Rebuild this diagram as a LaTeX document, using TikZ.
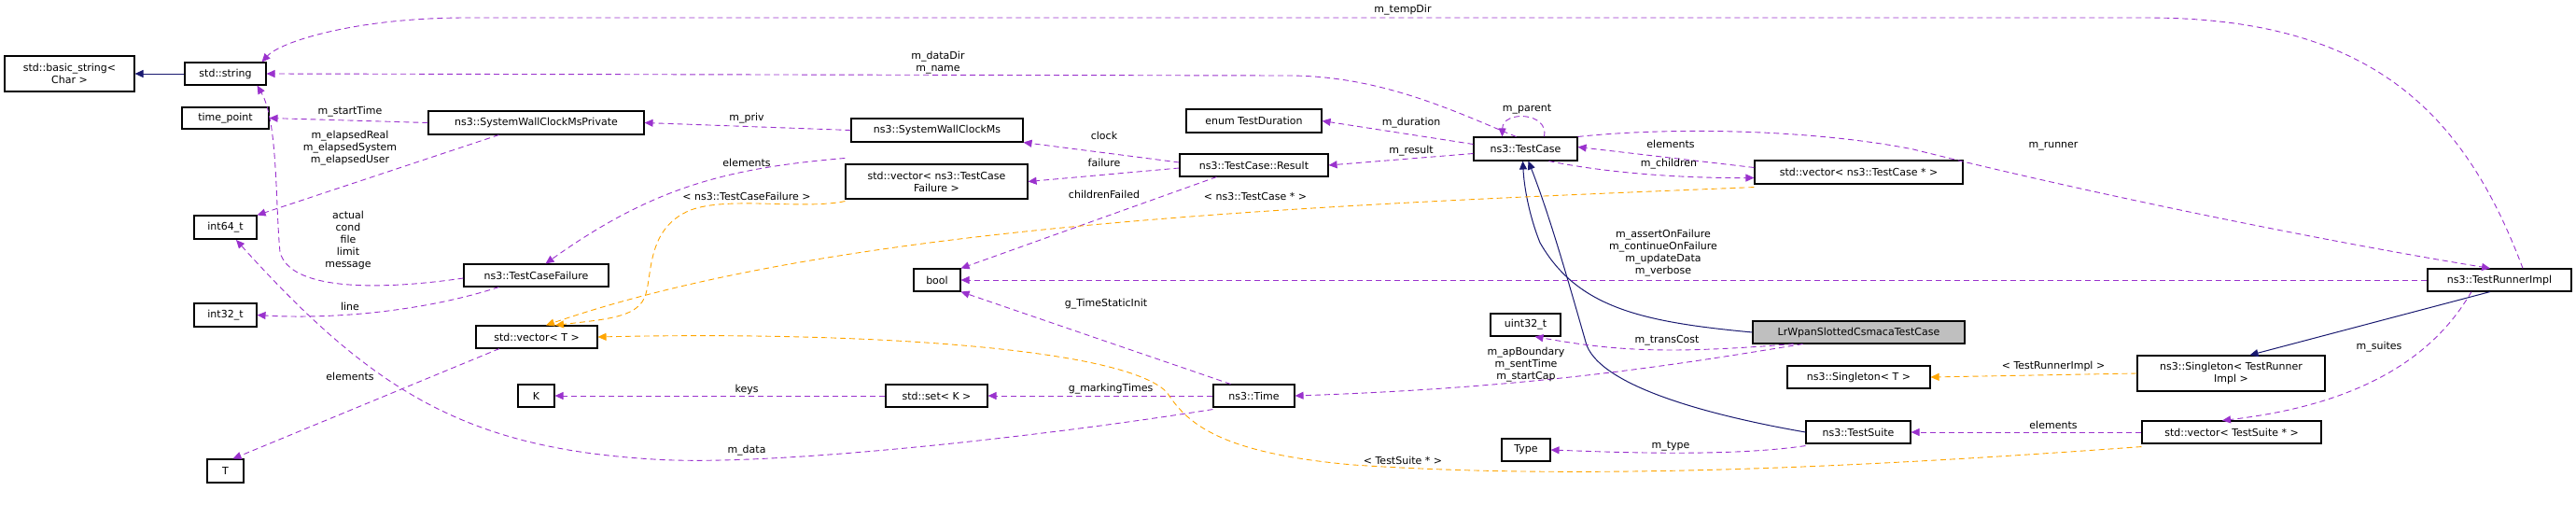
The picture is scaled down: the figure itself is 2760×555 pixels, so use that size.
\documentclass[tikz,border=0pt]{standalone}
\usepackage{fontspec}
\setmainfont{DejaVu Sans}
\usetikzlibrary{arrows.meta}
\definecolor{mem}{HTML}{9A32CD}
\definecolor{tpl}{HTML}{FFA500}
\definecolor{inh}{HTML}{191970}
\newcommand\bx[6]{\node[box,minimum width={(#4-#2)*1pt},minimum height={(#5-#3)*1pt}] (#1) at ({(#2+#4)/2},{(#3+#5)/2}) {#6};}
\begin{document}
\begin{tikzpicture}[x=1pt,y=-1pt,font=\fontsize{11}{13}\selectfont,
  box/.style={draw=black,line width=1.1pt,fill=white,inner sep=0pt,align=center},
  tip/.style={-{Triangle[length=9pt,width=8pt]}},
  m/.style={tip,draw=mem,dash pattern=on 6pt off 4pt,line width=0.9pt},
  t/.style={tip,draw=tpl,dash pattern=on 6pt off 4pt,line width=0.9pt},
  i/.style={tip,draw=inh,line width=1pt},
  lb/.style={inner sep=0pt,align=center}]
\useasboundingbox (0,0) rectangle (2760,555);
\bx{bstr}{5}{60}{144}{98}{std::basic\_string<\\Char >}
\bx{str}{198}{67}{285}{91}{std::string}
\bx{tp}{195}{115}{288}{138}{time\_point}
\bx{swp}{459}{119}{690}{144}{ns3::SystemWallClockMsPrivate}
\bx{i64}{208}{231}{275}{256}{int64\_t}
\bx{tcf}{497}{283}{652}{307}{ns3::TestCaseFailure}
\bx{i32}{208}{325}{275}{350}{int32\_t}
\bx{vt}{510}{349}{640}{373}{std::vector< T >}
\bx{K}{555}{412}{594}{436}{K}
\bx{T}{222}{492}{261}{517}{T}
\bx{sw}{912}{127}{1096}{152}{ns3::SystemWallClockMs}
\bx{vtcf}{906}{176}{1101}{213}{std::vector< ns3::TestCase\\Failure >}
\bx{dur}{1271}{117}{1416}{142}{enum TestDuration}
\bx{res}{1264}{165}{1423}{189}{ns3::TestCase::Result}
\bx{tc}{1579}{147}{1690}{172}{ns3::TestCase}
\bx{bool}{979}{288}{1029}{312}{bool}
\bx{u32}{1597}{336}{1672}{360}{uint32\_t}
\bx{setk}{949}{412}{1058}{436}{std::set< K >}
\bx{time}{1300}{412}{1387}{436}{ns3::Time}
\bx{type}{1609}{470}{1661}{494}{Type}
\bx{vtc}{1880}{172}{2103}{197}{std::vector< ns3::TestCase * >}
\node[box,fill=black!25,minimum width=227pt,minimum height=24pt] (lr) at (1991.5,356) {LrWpanSlottedCsmacaTestCase};
\bx{sgt}{1915}{392}{2068}{416}{ns3::Singleton< T >}
\bx{sgr}{2290}{381}{2491}{419}{ns3::Singleton< TestRunner\\Impl >}
\bx{ts}{1935}{451}{2047}{475}{ns3::TestSuite}
\bx{vts}{2295}{451}{2487}{475}{std::vector< TestSuite * >}
\bx{tri}{2601}{288}{2755}{312}{ns3::TestRunnerImpl}
% inheritance
\draw[i] (str) -- (bstr);
\draw[i] (lr.west) .. controls (1760,345) and (1690,330) .. (1650,260) .. controls (1638,230) and (1633,200) .. ([xshift=-3pt]tc.south);
\draw[i] (ts.west) .. controls (1860,450) and (1720,420) .. (1700,370) .. controls (1680,300) and (1660,230) .. ([xshift=3pt]tc.south);
\draw[i] ([xshift=-10pt]tri.south) -- ([xshift=20pt]sgr.north);
% members
\draw[m] ([xshift=25pt]tri.north) .. controls (2640,120) and (2540,19) .. (2300,19) -- (500,19) .. controls (380,19) and (300,45) .. ([xshift=-5pt]str.north east);
\node[lb] at (1503,11) {m\_tempDir};
\draw[m] ([xshift=-10pt]tc.north) .. controls (1560,120) and (1480,81) .. (1380,81) -- (str.east);
\node[lb] at (1005,67) {m\_dataDir\\m\_name};
\draw[m] (swp.west) -- (tp.east); \node[lb] at (375,120) {m\_startTime};
\draw[m] (sw.west) -- (swp.east); \node[lb] at (800,127) {m\_priv};
\draw[m] ([xshift=-40pt]swp.south) -- (i64.north east); \node[lb] at (375,159) {m\_elapsedReal\\m\_elapsedSystem\\m\_elapsedUser};
\draw[m] ([yshift=-3pt]tcf.west) .. controls (400,312) and (310,310) .. (300,270) .. controls (295,220) and (298,130) .. ([xshift=-10pt]str.south east);
\node[lb] at (373,257) {actual\\cond\\file\\limit\\message};
\draw[m] ([xshift=-40pt]tcf.south) .. controls (450,335) and (350,342) .. (i32.east); \node[lb] at (375,328) {line};
\draw[m] ([yshift=6pt]vtcf.north west) .. controls (780,180) and (700,200) .. ([xshift=10pt]tcf.north); \node[lb] at (800,174) {elements};
\draw[m] ([xshift=-40pt]vt.south) -- ([xshift=8pt]T.north); \node[lb] at (375,403) {elements};
\draw[m] (setk.west) -- (K.east); \node[lb] at (800,417) {keys};
\draw[m] ([yshift=-2pt]time.south west) .. controls (1100,470) and (820,500) .. (700,492) .. controls (500,480) and (400,420) .. (253,257);
\node[lb] at (800,483) {m\_data};
\draw[m] (time.west) -- (setk.east); \node[lb] at (1190,417) {g\_markingTimes};
\draw[m] ([xshift=-25pt]time.north) -- (bool.south east); \node[lb] at (1185,326) {g\_TimeStaticInit};
\draw[m] ([yshift=3pt]res.west) -- (sw.south east); \node[lb] at (1183,145) {clock};
\draw[m] ([yshift=-3pt]res.west) -- (vtcf.east); \node[lb] at (1183,174) {failure};
\draw[m] ([xshift=-40pt]res.south) -- (bool.north east); \node[lb] at (1183,208) {childrenFailed};
\draw[m] ([yshift=5pt]tc.west) -- (dur.east); \node[lb] at (1512,132) {m\_duration};
\draw[m] ([yshift=-5pt]tc.west) -- (res.east); \node[lb] at (1512,162) {m\_result};
\draw[m] ([xshift=20pt]tc.north) .. controls (1660,120) and (1610,118) .. ([xshift=-25pt]tc.north); \node[lb] at (1636,117) {m\_parent};
\draw[m] ([yshift=5pt]vtc.west) -- ([yshift=2pt]tc.east); \node[lb] at (1790,154) {elements};
\draw[m] ([xshift=25pt]tc.south) .. controls (1720,185) and (1800,191) .. ([yshift=-6pt]vtc.west); \node[lb] at (1788,176) {m\_children};
\draw[m] (tc.north east) .. controls (1800,135) and (1950,140) .. (2050,160) .. controls (2250,210) and (2500,260) .. ([xshift=-10pt]tri.north);
\node[lb] at (2200,157) {m\_runner};
\draw[m] (tri.west) -- (bool.east); \node[lb] at (1782,271) {m\_assertOnFailure\\m\_continueOnFailure\\m\_updateData\\m\_verbose};
\draw[m] ([xshift=-70pt]lr.south) .. controls (1800,378) and (1740,378) .. ([xshift=10pt]u32.south); \node[lb] at (1786,365) {m\_transCost};
\draw[m] ([xshift=-60pt]lr.south) .. controls (1800,390) and (1650,415) .. (time.east); \node[lb] at (1635,391) {m\_apBoundary\\m\_sentTime\\m\_startCap};
\draw[m] ([yshift=-2pt]ts.south west) .. controls (1850,490) and (1720,484) .. (type.east); \node[lb] at (1790,478) {m\_type};
\draw[m] (vts.west) -- (ts.east); \node[lb] at (2200,455) {elements};
\draw[m] ([xshift=-30pt]tri.south) .. controls (2620,360) and (2560,430) .. ([xshift=-10pt]vts.north); \node[lb] at (2549,372) {m\_suites};
% templates
\draw[t] ([yshift=-2pt]vtcf.south west) .. controls (860,225) and (780,210) .. (740,225) .. controls (690,245) and (700,300) .. (690,320) .. controls (680,340) and (650,342) .. ([xshift=20pt]vt.north);
\node[lb] at (800,210) {< ns3::TestCaseFailure >};
\draw[t] ([yshift=-3pt]vtc.south west) .. controls (1400,220) and (900,240) .. ([xshift=10pt]vt.north); \node[lb] at (1345,210) {< ns3::TestCase * >};
\draw[t] ([yshift=-3pt]vts.south west) .. controls (2000,500) and (1700,515) .. (1450,498) .. controls (1300,485) and (1270,450) .. (1250,420) .. controls (1200,370) and (900,355) .. (vt.east);
\node[lb] at (1503,493) {< TestSuite * >};
\draw[t] (sgr.west) -- (sgt.east); \node[lb] at (2200,392) {< TestRunnerImpl >};
\end{tikzpicture}
\end{document}
